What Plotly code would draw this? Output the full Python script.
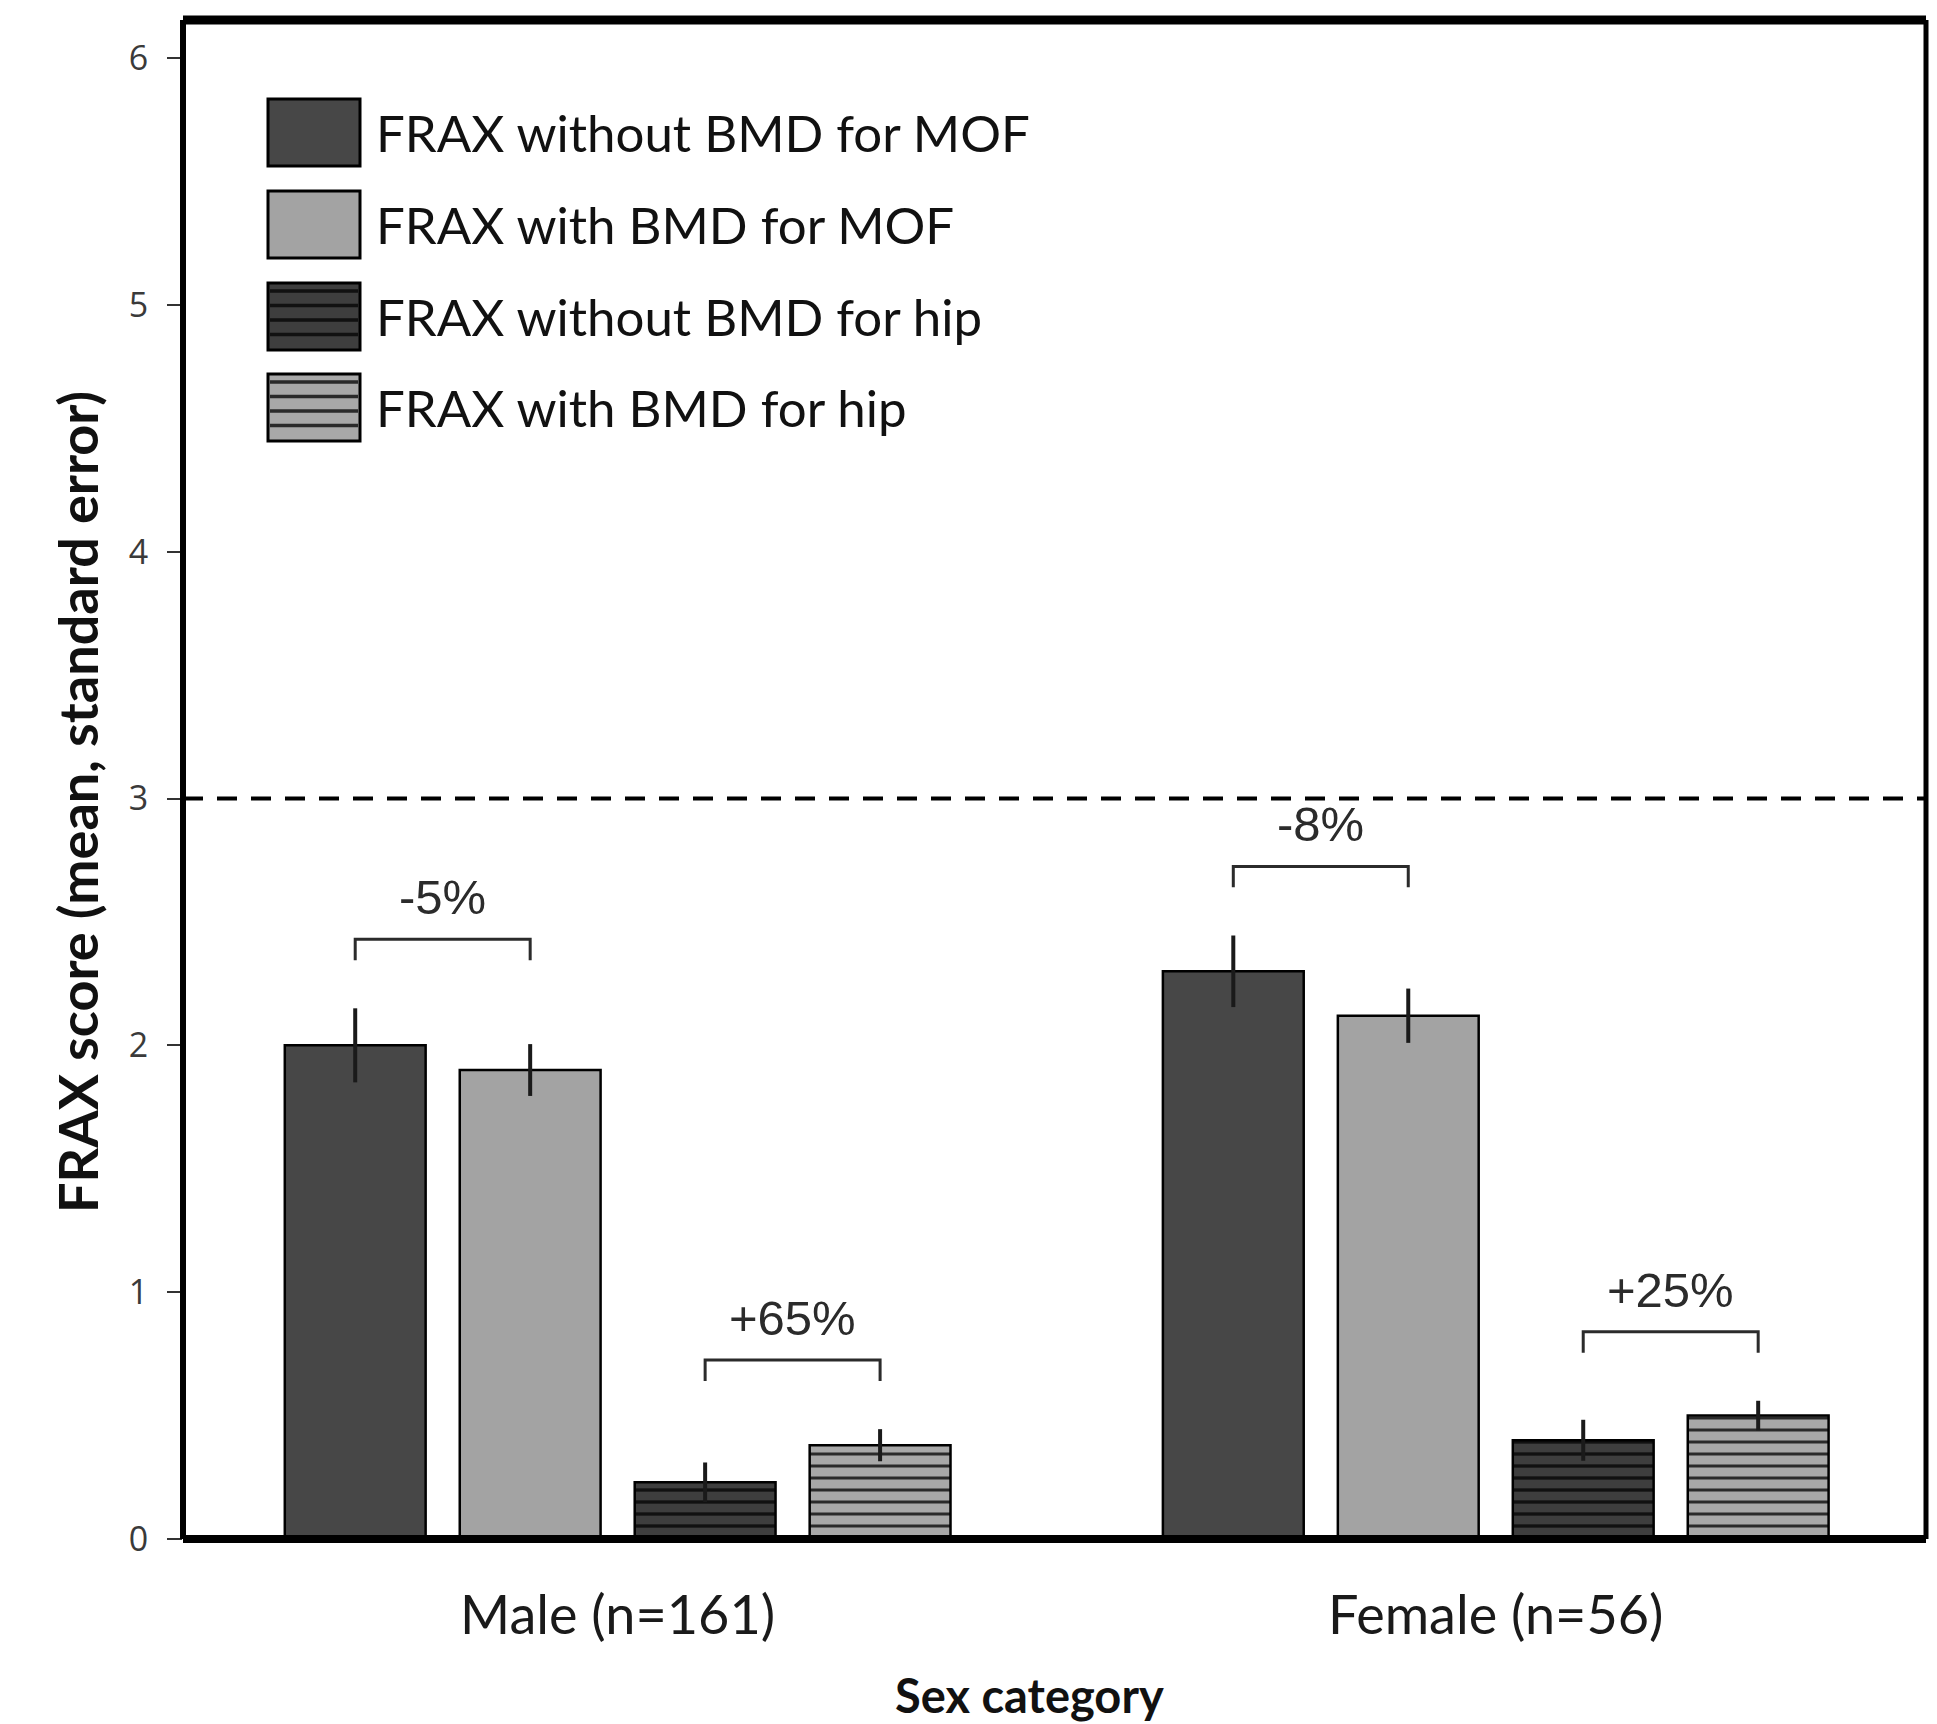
import plotly.graph_objects as go

# ---- data -------------------------------------------------------------
categories = ["Male (n=161)", "Female (n=56)"]
series_names = [
    "FRAX without BMD for MOF",
    "FRAX with BMD for MOF",
    "FRAX without BMD for hip",
    "FRAX with BMD for hip",
]
# mean FRAX score per series, ordered [Male, Female]
without_bmd_mof = [2.00, 2.30]
with_bmd_mof = [1.90, 2.12]
without_bmd_hip = [0.23, 0.40]
with_bmd_hip = [0.38, 0.50]
# standard errors
se_without_bmd_mof = [0.15, 0.145]
se_with_bmd_mof = [0.105, 0.11]
se_without_bmd_hip = [0.08, 0.083]
se_with_bmd_hip = [0.065, 0.06]
# relative change (with vs without BMD) for each pair
change_mof = ["-5%", "-8%"]
change_hip = ["+65%", "+25%"]
threshold = 3
y_ticks = [0, 1, 2, 3, 4, 5, 6]
x_title = "Sex category"
y_title = "FRAX score (mean, standard error)"

means = [without_bmd_mof, with_bmd_mof, without_bmd_hip, with_bmd_hip]
errors = [se_without_bmd_mof, se_with_bmd_mof, se_without_bmd_hip, se_with_bmd_hip]

# ---- styling ----------------------------------------------------------
W, H = 1937, 1724
L, R, T, B = 183, 11, 20, 185
BARGAP, BARGROUPGAP = 0.203, 0.195
styles = [
    dict(color="#474747", pattern=None),
    dict(color="#a3a3a3", pattern=None),
    dict(color="#3e3e3e", pattern=dict(shape="-", fgcolor="#111111", bgcolor="#3e3e3e",
                                        size=12, solidity=0.28, fillmode="replace")),
    dict(color="#a8a8a8", pattern=dict(shape="-", fgcolor="#2a2a2a", bgcolor="#a8a8a8",
                                        size=12, solidity=0.25, fillmode="replace")),
]
TEXT_FONT = "Lato"


def paper_x(px):
    return (px - L) / (W - L - R)


def paper_y(py):
    return (H - B - py) / (H - T - B)


fig = go.Figure()
for name, vals, err, st in zip(series_names, means, errors, styles):
    marker = dict(color=st["color"], line=dict(color="#000000", width=2.5))
    if st["pattern"]:
        marker["pattern"] = st["pattern"]
    fig.add_trace(go.Bar(
        x=categories, y=vals, name=name, marker=marker, showlegend=False,
        error_y=dict(type="data", array=err, color="#1a1a1a", thickness=4, width=0),
    ))

shapes = []
annotations = []

# threshold line
shapes.append(dict(type="line", xref="paper", x0=0, x1=1, yref="y", y0=threshold, y1=threshold,
                   line=dict(color="#000000", width=4, dash="20px,14px"), layer="above"))

# brackets with percentage change over each pair of bars
slot = (1 - BARGAP) / len(series_names)


def bar_center(cat_idx, series_idx):
    return cat_idx + (series_idx - (len(series_names) - 1) / 2) * slot


for ci in range(len(categories)):
    for (a, b), labels in (((0, 1), change_mof), ((2, 3), change_hip)):
        top = max(means[a][ci] + errors[a][ci], means[b][ci] + errors[b][ci])
        yb = top + 0.28
        xa, xb = bar_center(ci, a), bar_center(ci, b)
        shapes.append(dict(type="path", xref="x", yref="y",
                           path=f"M {xa},{yb - 0.085} L {xa},{yb} L {xb},{yb} L {xb},{yb - 0.085}",
                           line=dict(color="#2b2b2b", width=3)))
        annotations.append(dict(x=(xa + xb) / 2, y=yb + 0.17, xref="x", yref="y", text=labels[ci],
                                showarrow=False, yanchor="middle",
                                font=dict(family="Liberation Sans, Arial", size=49, color="#2b2b2b")))

# frame
shapes += [
    dict(type="line", xref="paper", yref="paper", x0=0, x1=1, y0=1, y1=1,
         line=dict(color="#000000", width=9), layer="above"),
    dict(type="line", xref="paper", yref="paper", x0=1, x1=1, y0=0, y1=1,
         line=dict(color="#000000", width=5), layer="above"),
    dict(type="line", xref="paper", yref="paper", x0=0, x1=0, y0=0, y1=1,
         line=dict(color="#000000", width=6), layer="above"),
    dict(type="line", xref="paper", yref="paper", x0=0, x1=1, y0=0, y1=0,
         line=dict(color="#000000", width=8), layer="above"),
]

# legend drawn as large swatches
row_tops = [99, 191, 283, 374]
sw_h, sw_x0, sw_x1 = 67, 268, 360
for name, st, top in zip(series_names, styles, row_tops):
    shapes.append(dict(type="rect", xref="paper", yref="paper",
                       x0=paper_x(sw_x0), x1=paper_x(sw_x1),
                       y0=paper_y(top + sw_h), y1=paper_y(top),
                       fillcolor=st["color"], line=dict(color="#000000", width=3)))
    if st["pattern"]:
        yy = top + 8
        while yy < top + sw_h - 3:
            shapes.append(dict(type="line", xref="paper", yref="paper",
                               x0=paper_x(sw_x0 + 2), x1=paper_x(sw_x1 - 2),
                               y0=paper_y(yy), y1=paper_y(yy),
                               line=dict(color=st["pattern"]["fgcolor"], width=3.5)))
            yy += 14.5
    annotations.append(dict(x=paper_x(374), y=paper_y(top + sw_h / 2), xref="paper", yref="paper",
                            text=name, showarrow=False, xanchor="left", yanchor="middle",
                            font=dict(family=TEXT_FONT, size=51, color="#111111")))

# axis titles
annotations.append(dict(x=paper_x(1029), y=paper_y(1695), xref="paper", yref="paper",
                        text=f"<b>{x_title}</b>", showarrow=False, yanchor="middle",
                        font=dict(family=TEXT_FONT, size=47, color="#111111")))
annotations.append(dict(x=paper_x(77), y=paper_y(802), xref="paper", yref="paper",
                        text=f"<b>{y_title}</b>", showarrow=False, textangle=-90,
                        xanchor="center", yanchor="middle",
                        font=dict(family=TEXT_FONT, size=54, color="#111111")))

fig.update_layout(
    width=W, height=H,
    margin=dict(l=L, r=R, t=T, b=B, autoexpand=False),
    paper_bgcolor="white", plot_bgcolor="white",
    barmode="group", bargap=BARGAP, bargroupgap=BARGROUPGAP,
    shapes=shapes, annotations=annotations,
    xaxis=dict(
        range=[-0.495, 1.49], showgrid=False, zeroline=False, showline=False, ticks="",
        automargin=False,
        tickfont=dict(family=TEXT_FONT, size=54, color="#1a1a1a"), ticklabelstandoff=40,
    ),
    yaxis=dict(
        range=[0, 6.154], tickvals=y_ticks, showgrid=False, zeroline=False, showline=False,
        automargin=False,
        ticks="outside", ticklen=15, tickwidth=2, tickcolor="#333333",
        tickfont=dict(family="Open Sans", size=34, color="#3a3a3a"), ticklabelstandoff=12,
    ),
)

fig.write_html("out.html")
